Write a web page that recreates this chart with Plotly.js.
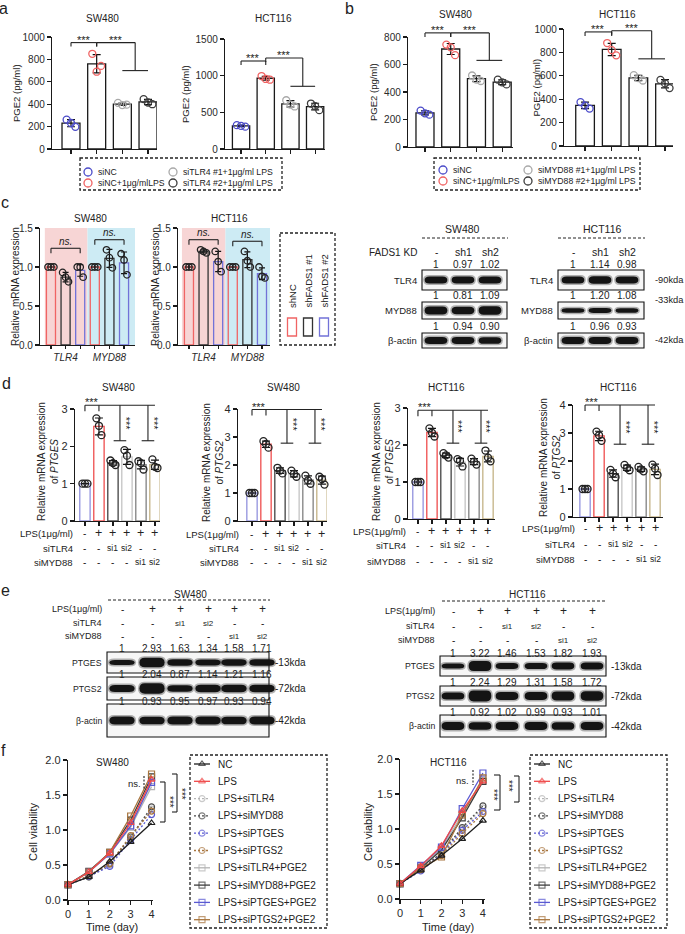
<!DOCTYPE html>
<html>
<head>
<meta charset="utf-8">
<script src="https://cdn.plot.ly/plotly-3.0.1.min.js"></script>
<style>html,body{margin:0;padding:0;background:#fff;}#fig{width:685px;height:934px;}</style>
</head>
<body>
<div id="fig"></div>
<script>
// ================= DATA =================
// panel a / b : PGE2 (pg/ml), three replicates per group
const aLegend = ["siNC", "siNC+1μg/mlLPS", "siTLR4 #1+1μg/ml LPS", "siTLR4 #2+1μg/ml LPS"];
const bLegend = ["siNC", "siNC+1μg/mlLPS", "siMYD88 #1+1μg/ml LPS", "siMYD88 #2+1μg/ml LPS"];
const aSW480  = [[262, 232, 198], [850, 690, 742], [412, 392, 396], [445, 415, 400]];
const aHCT116 = [[325, 315, 305], [995, 955, 945], [665, 605, 580], [620, 585, 530]];
const bSW480  = [[265, 245, 235], [745, 725, 668], [520, 490, 480], [490, 470, 455]];
const bHCT116 = [[375, 345, 320], [880, 820, 775], [605, 580, 560], [565, 535, 495]];

// panel c : relative mRNA expression (TLR4 x3 groups, MYD88 x3 groups)
const cGenes  = ["TLR4", "MYD88"];
const cGroups = ["shNC", "shFADS1 #1", "shFADS1 #2"];
const cSW480  = [[1, 1, 1], [0.93, 0.87, 0.81], [1.0, 1.0, 0.87], [1, 1, 1], [1.22, 1.12, 0.99], [1.17, 1.09, 0.90]];
const cHCT116 = [[1, 1, 1], [1.22, 1.20, 1.18], [1.20, 1.07, 0.94], [1, 1, 1], [1.20, 1.08, 1.00], [1.00, 0.88, 0.86]];
// panel c blots
const cLanes = ["-", "sh1", "sh2"];
const cBlotRows = ["TLR4", "MYD88", "β-actin"];
const cKda = ["-90kda", "-33kda", "-42kda"];
const cQuantSW480  = [[1, 0.97, 1.02], [1, 0.81, 1.09], [1, 0.94, 0.90]];
const cQuantHCT116 = [[1, 1.14, 0.98], [1, 1.20, 1.08], [1, 0.96, 0.93]];

// panel d : relative mRNA expression of PTGES / PTGS2
const dRowLabels = ["LPS(1μg/ml)", "siTLR4", "siMYD88"];
const dLPS   = ["-", "+", "+", "+", "+", "+"];
const dTLR4  = ["-", "-", "si1", "si2", "-", "-"];
const dMYD88 = ["-", "-", "-", "-", "si1", "si2"];
const dSW_PTGES  = [[1, 1, 1], [2.75, 2.55, 2.30], [1.62, 1.55, 1.50], [1.90, 1.75, 1.50], [1.60, 1.55, 1.38], [1.65, 1.45, 1.42]];
const dSW_PTGS2  = [[1, 1, 1], [2.85, 2.75, 2.62], [1.90, 1.80, 1.70], [1.80, 1.68, 1.58], [1.62, 1.45, 1.33], [1.58, 1.50, 1.30]];
const dHCT_PTGES = [[1, 1, 1], [2.45, 2.33, 2.23], [1.78, 1.72, 1.66], [1.62, 1.57, 1.42], [1.63, 1.55, 1.47], [1.85, 1.66, 1.56]];
const dHCT_PTGS2 = [[1, 1, 1], [3.05, 2.92, 2.72], [1.68, 1.55, 1.42], [1.86, 1.75, 1.67], [1.79, 1.70, 1.63], [1.87, 1.73, 1.50]];

// panel e blots
const eRows = ["PTGES", "PTGS2", "β-actin"];
const eKda = ["-13kda", "-72kda", "-42kda"];
const eQuantSW480  = [[1, 2.93, 1.63, 1.34, 1.58, 1.71], [1, 2.04, 0.87, 1.14, 1.21, 1.16], [1, 0.93, 0.95, 0.97, 0.93, 0.94]];
const eQuantHCT116 = [[1, 3.22, 1.46, 1.53, 1.82, 1.93], [1, 2.24, 1.29, 1.31, 1.58, 1.72], [1, 0.92, 1.02, 0.99, 0.93, 1.01]];

// panel f : cell viability over time
const fDays = [0, 1, 2, 3, 4];
const fNames = ["NC", "LPS", "LPS+siTLR4", "LPS+siMYD88", "LPS+siPTGES", "LPS+siPTGS2",
                "LPS+siTLR4+PGE2", "LPS+siMYD88+PGE2", "LPS+siPTGES+PGE2", "LPS+siPTGS2+PGE2"];
const fSW480 = [
  [0.22, 0.33, 0.55, 0.83, 1.10],
  [0.22, 0.40, 0.67, 1.10, 1.72],
  [0.22, 0.33, 0.50, 0.88, 1.30],
  [0.22, 0.33, 0.52, 0.90, 1.33],
  [0.22, 0.34, 0.48, 0.86, 1.22],
  [0.22, 0.35, 0.52, 0.92, 1.27],
  [0.22, 0.40, 0.66, 1.04, 1.62],
  [0.22, 0.41, 0.68, 1.14, 1.76],
  [0.22, 0.40, 0.66, 1.06, 1.68],
  [0.22, 0.40, 0.68, 1.20, 1.80]
];
const fHCT116 = [
  [0.22, 0.41, 0.62, 0.86, 1.12],
  [0.22, 0.47, 0.76, 1.26, 1.68],
  [0.22, 0.42, 0.66, 1.00, 1.30],
  [0.22, 0.42, 0.66, 1.02, 1.33],
  [0.22, 0.40, 0.64, 0.98, 1.25],
  [0.22, 0.42, 0.62, 0.94, 1.22],
  [0.22, 0.46, 0.72, 1.22, 1.70],
  [0.22, 0.44, 0.70, 1.16, 1.68],
  [0.22, 0.48, 0.74, 1.29, 1.80],
  [0.22, 0.44, 0.60, 1.20, 1.73]
];

// ================= STYLE / LAYOUT HELPERS =================
const FONT = '"Liberation Sans", Arial, Helvetica, sans-serif';
const INK = '#222222';
const W = 685, H = 934;
const P = x => x / W, Q = y => 1 - y / H;
const traces = [], shapes = [], annos = [];
const layout = {
  width: W, height: H, margin: {l: 0, r: 0, t: 0, b: 0, pad: 0},
  paper_bgcolor: '#ffffff', plot_bgcolor: 'rgba(0,0,0,0)', showlegend: false, hovermode: false,
  font: {family: FONT, color: INK, size: 10}, shapes: shapes, annotations: annos
};
function txt(x, y, text, o) {
  o = o || {};
  annos.push({xref: 'paper', yref: 'paper', x: P(x), y: Q(y), text: text, showarrow: false,
    xanchor: o.xa || 'center', yanchor: o.ya || 'middle', textangle: o.ang || 0, borderpad: 0,
    font: {family: FONT, size: o.size || 10, color: o.color || INK}});
}
function ln(x0, y0, x1, y1, o) {
  o = o || {};
  shapes.push({type: 'line', xref: 'paper', yref: 'paper', x0: P(x0), y0: Q(y0), x1: P(x1), y1: Q(y1),
    line: {color: o.color || INK, width: o.w || 1.1, dash: o.dash || 'solid'}, layer: o.layer || 'above'});
}
function rect(x0, y0, x1, y1, o) {
  o = o || {};
  shapes.push({type: 'rect', xref: 'paper', yref: 'paper', x0: P(x0), y0: Q(y0), x1: P(x1), y1: Q(y1),
    line: {color: o.line || INK, width: o.w === undefined ? 1 : o.w, dash: o.dash || 'solid'},
    fillcolor: o.fill || 'rgba(0,0,0,0)', layer: o.layer || 'above'});
}
let axCount = 0;
const axBase = {showgrid: false, zeroline: false, showline: true, linecolor: '#1a1a1a', linewidth: 1.2,
  ticks: 'outside', ticklen: 4, tickwidth: 1.2, tickcolor: '#1a1a1a',
  tickfont: {family: FONT, size: 10, color: '#2a2a2a'}, fixedrange: true};
function mk(p, xo, yo) {
  axCount++;
  const s = axCount === 1 ? '' : String(axCount);
  layout['xaxis' + s] = Object.assign({}, axBase, {domain: [P(p.L), P(p.R)], range: p.xr, anchor: 'y' + s}, xo || {});
  layout['yaxis' + s] = Object.assign({}, axBase, {domain: [Q(p.B), Q(p.T)], range: p.yr, anchor: 'x' + s}, yo || {});
  p.xa = 'x' + s; p.ya = 'y' + s;
  return p;
}
const X = (p, v) => p.L + (v - p.xr[0]) / (p.xr[1] - p.xr[0]) * (p.R - p.L);
const Y = (p, v) => p.B - (v - p.yr[0]) / (p.yr[1] - p.yr[0]) * (p.B - p.T);

// pixel overlay (for legend glyphs)
const pix = mk({L: 0, R: W, T: 0, B: H, xr: [0, W], yr: [H, 0]}, {visible: false}, {visible: false});
const glyph = {x: [], y: [], c: [], s: []};

function barPanel(p, reps, o) {
  const means = reps.map(r => r.reduce((a, b) => a + b, 0) / r.length);
  const sds = reps.map((r, i) => Math.sqrt(r.reduce((a, b) => a + (b - means[i]) ** 2, 0) / (r.length - 1)));
  const xs = reps.map((_, i) => i);
  traces.push({type: 'bar', x: xs, y: means, width: o.bw, xaxis: p.xa, yaxis: p.ya,
    marker: {color: o.fill, line: {color: o.edge, width: o.ew || 1.3}},
    error_y: {type: 'data', array: sds, visible: true, color: '#111', thickness: 1.2, width: o.ebw || 4}});
  const jit = o.jit || [-0.17, 0, 0.17];
  const qx = [], qy = [], qc = [];
  reps.forEach((r, i) => r.forEach((v, j) => { qx.push(xs[i] + jit[j % jit.length]); qy.push(v); qc.push(o.ptColor[i]); }));
  traces.push({type: 'scatter', mode: 'markers', x: qx, y: qy, xaxis: p.xa, yaxis: p.ya, cliponaxis: false,
    marker: {symbol: 'circle-open', size: o.ms || 7, color: qc, line: {width: 1.3}}});
}

// ---------- panel labels ----------
[['a', 4, 9], ['b', 349, 9], ['c', 5, 203], ['d', 6, 383], ['e', 5, 590], ['f', 4, 750]].forEach(t =>
  txt(t[1], t[2], t[0], {size: 16}));

// ================= PANEL a / b =================
const abColors = ['#4b4bc9', '#f06262', '#a9a9a9', '#3c3c3c'];
function sigAB(p, y1, y2, y3) {
  const t = 4;
  ln(X(p, 0), Y(p, y1) + t, X(p, 0), Y(p, y1)); ln(X(p, 0), Y(p, y1), X(p, 1), Y(p, y1)); ln(X(p, 1), Y(p, y1), X(p, 1), Y(p, y1) + t);
  txt(X(p, 0.5), Y(p, y1) - 3, '***', {size: 11});
  ln(X(p, 1), Y(p, y2), X(p, 2.5), Y(p, y2)); ln(X(p, 1), Y(p, y2), X(p, 1), Y(p, y2) + t);
  ln(X(p, 2.5), Y(p, y2), X(p, 2.5), Y(p, y3)); ln(X(p, 2), Y(p, y3), X(p, 3), Y(p, y3));
  txt(X(p, 1.75), Y(p, y2) - 3, '***', {size: 11});
}
function abPanel(spec, data, ticks, title, tx, ty, ytx, sig) {
  const p = mk(spec, {tickvals: [0, 1, 2, 3], showticklabels: false}, {tickvals: ticks});
  barPanel(p, data, {bw: 0.7, fill: '#ffffff', edge: '#1a1a1a', ptColor: abColors});
  sigAB(p, sig[0], sig[1], sig[2]);
  txt(tx, ty, title, {size: 10});
  txt(ytx, (spec.T + spec.B) / 2, 'PGE2 (pg/ml)', {ang: -90, size: 9.5});
}
abPanel({L: 52, R: 157, T: 37, B: 149, xr: [-0.74, 3.35], yr: [0, 1000]}, aSW480, [0, 200, 400, 600, 800, 1000], 'SW480', 102, 18, 17, [950, 950, 700]);
abPanel({L: 225, R: 325, T: 39, B: 149, xr: [-0.65, 3.4], yr: [0, 1500]}, aHCT116, [0, 500, 1000, 1500], 'HCT116', 273, 18, 186, [1200, 1240, 855]);
abPanel({L: 408, R: 513, T: 37, B: 147, xr: [-0.66, 3.42], yr: [0, 800]}, bSW480, [0, 200, 400, 600, 800], 'SW480', 455, 14, 374, [830, 830, 630]);
abPanel({L: 564, R: 673, T: 29, B: 146, xr: [-0.79, 3.3], yr: [0, 1000]}, bHCT116, [0, 200, 400, 600, 800, 1000], 'HCT116', 617, 14, 536, [975, 985, 745]);

function abLegend(box, c1, c2, rows, labels) {
  rect(box[0], box[1], box[2], box[3], {dash: '3px,2px', w: 1.3});
  labels.forEach((lab, i) => {
    const cx = i < 2 ? c1 : c2, cy = rows[i % 2];
    glyph.x.push(cx); glyph.y.push(cy); glyph.c.push(abColors[i]); glyph.s.push('circle-open');
    txt(cx + 9, cy, lab, {xa: 'left', size: 8.7});
  });
}
abLegend([80, 158, 282, 190], 88, 173, [172, 183], aLegend);
abLegend([434, 158, 640, 190], 443, 528, [170, 181], bLegend);

// ================= PANEL c (bars) =================
const cColors = ['#f06464', '#333333', '#7272d8'];
const cEdge = cGenes.flatMap(() => cColors);
function cPanel(spec, data, title, tx, ytx, pinkFrom, ns) {
  const p = mk(spec, {tickvals: [0, 1, 2, 3, 4, 5], ticktext: ['', '<i>' + cGenes[0] + '</i>', '', '', '<i>' + cGenes[1] + '</i>', ''], ticklen: 3,
    tickfont: {family: FONT, size: 10, color: '#2a2a2a'}},
    {tickvals: [0, 0.5, 1, 1.5], tickformat: '.1f', tickfont: {family: FONT, size: 10, color: '#2a2a2a'}});
  rect(X(p, pinkFrom), spec.T, X(p, 2.5), spec.B, {fill: '#f7d5d5', w: 0, layer: 'below'});
  rect(X(p, 2.5), spec.T, spec.R, spec.B, {fill: '#cdebf4', w: 0, layer: 'below'});
  barPanel(p, data, {bw: 0.62, fill: 'rgba(0,0,0,0)', edge: cEdge, ptColor: data.map(() => '#222'), ms: 6.5, ebw: 3, jit: [-0.2, 0, 0.2]});
  ns.forEach(n => {
    const a = X(p, n[0]), b = X(p, n[0] + 2), y = Y(p, n[1]);
    ln(a, y + 5, a, y); ln(a, y, b, y); ln(b, y, b, y + 5);
    txt((a + b) / 2, y - 7, '<i>ns.</i>', {size: 10});
  });
  txt(tx, 218, title, {size: 10});
  txt(ytx, 287, 'Relative mRNA expression', {ang: -90, size: 10});
}
cPanel({L: 40, R: 135, T: 228, B: 345, xr: [-0.75, 5.75], yr: [0, 1.5]}, cSW480, 'SW480', 90, 15, -0.42, [[0, 1.24], [3, 1.35]]);
cPanel({L: 178, R: 270, T: 228, B: 345, xr: [-0.75, 5.55], yr: [0, 1.5]}, cHCT116, 'HCT116', 229, 155, -0.48, [[0, 1.35], [3, 1.33]]);
// c legend
rect(280, 233, 335, 345, {dash: '3px,2px', w: 1.3});
cGroups.forEach((g, i) => {
  const cx = 292 + i * 16;
  txt(cx, 309, g, {ang: -90, ya: 'bottom', size: 9.5});
  rect(cx - 4.5, 318, cx + 4.5, 336, {line: cColors[i], w: 1.3});
});

// ================= BLOTS =================
function bandPath(cx, cy, w, h) {
  const x0 = cx - w / 2, x1 = cx + w / 2, y0 = cy - h / 2, y1 = cy + h / 2, r = w * 0.22;
  return `M${P(x0 + r)},${Q(y0)} L${P(x1 - r)},${Q(y0)} Q${P(x1)},${Q(y0)} ${P(x1)},${Q(cy)} Q${P(x1)},${Q(y1)} ${P(x1 - r)},${Q(y1)} ` +
         `L${P(x0 + r)},${Q(y1)} Q${P(x0)},${Q(y1)} ${P(x0)},${Q(cy)} Q${P(x0)},${Q(y0)} ${P(x0 + r)},${Q(y0)} Z`;
}
function band(cx, cy, w, h) {
  shapes.push({type: 'path', xref: 'paper', yref: 'paper', path: bandPath(cx, cy, w + 3, h + 3), fillcolor: 'rgba(40,40,40,0.35)', line: {width: 0}});
  shapes.push({type: 'path', xref: 'paper', yref: 'paper', path: bandPath(cx, cy, w, h), fillcolor: '#141414', line: {width: 0}});
}
const fmtQ = q => (q === 1 ? '1' : q.toFixed(2));
function drawBlot(b) {
  const f = b.fs;
  txt(b.titleX, b.titleY, b.title, {size: f.title});
  ln(b.dashL, b.dashY, b.dashR, b.dashY, {dash: '3px,2px', w: 1});
  b.hdr.forEach(h => {
    if (h.label) txt(b.labR, h.y, h.label, {size: f.hdr, xa: 'right'});
    h.vals.forEach((v, i) => txt(b.lanes[i], h.y, v, {size: v === '+' ? 12 : (v === '-' ? 10 : f.si)}));
  });
  const sp = b.lanes[1] - b.lanes[0];
  b.rows.forEach((r, k) => {
    b.quant[k].forEach((q, i) => txt(b.lanes[i], r.qy, fmtQ(q), {size: f.q}));
    rect(b.L, r.T, b.R, r.B, {fill: '#f6f6f6', line: '#111', w: 1.1});
    txt(b.labR, (r.T + r.B) / 2, b.names[k], {size: f.row, xa: 'right'});
    if (b.kda) txt(b.kdaX, r.kdaY, b.kda[k], {size: f.kda, xa: 'left'});
    b.quant[k].forEach((q, i) => {
      const h = Math.min(r.h * (0.55 + 0.45 * q), (r.B - r.T) - 4);
      band(b.lanes[i], (r.T + r.B) / 2, sp * 0.84, h);
    });
  });
}
const cFs = {title: 10.5, hdr: 10, si: 10.5, q: 10, row: 9.5, kda: 9.3};
const eFs = {title: 10, hdr: 9, si: 8, q: 10, row: 8.7, kda: 10};
// c blots
drawBlot({title: 'SW480', titleX: 462, titleY: 229, dashL: 422, dashR: 508, dashY: 238, fs: cFs,
  lanes: [436, 463, 490], L: 422, R: 507, labR: 418,
  hdr: [{label: 'FADS1 KD', y: 252, vals: cLanes}], names: cBlotRows, quant: cQuantSW480,
  rows: [{T: 270, B: 290, qy: 264, h: 7}, {T: 302, B: 319, qy: 296, h: 8}, {T: 333, B: 348, qy: 326, h: 7}]});
drawBlot({title: 'HCT116', titleX: 602, titleY: 229, dashL: 558, dashR: 645, dashY: 238, fs: cFs,
  lanes: [573, 600, 627], L: 558, R: 644, labR: 554, kda: cKda, kdaX: 654,
  hdr: [{label: '', y: 252, vals: cLanes}], names: cBlotRows, quant: cQuantHCT116,
  rows: [{T: 270, B: 290, qy: 264, h: 7, kdaY: 280}, {T: 302, B: 319, qy: 296, h: 4.5, kdaY: 300}, {T: 333, B: 348, qy: 326, h: 7, kdaY: 340}]});

// e blots
drawBlot({title: 'SW480', titleX: 190, titleY: 594, dashL: 108, dashR: 270, dashY: 600, fs: eFs,
  lanes: [122, 152, 180, 208, 234, 262], L: 107, R: 269, labR: 103, kda: eKda, kdaX: 274,
  hdr: [{label: dRowLabels[0], y: 609, vals: dLPS}, {label: dRowLabels[1], y: 623, vals: dTLR4}, {label: dRowLabels[2], y: 636, vals: dMYD88}],
  names: eRows, quant: eQuantSW480,
  rows: [{T: 652, B: 673, qy: 648, h: 5, kdaY: 662}, {T: 677, B: 700, qy: 674, h: 7, kdaY: 688}, {T: 704, B: 737, qy: 701, h: 8, kdaY: 720}]});
drawBlot({title: 'HCT116', titleX: 527, titleY: 594, dashL: 442, dashR: 605, dashY: 601, fs: eFs,
  lanes: [453, 480, 507, 536, 563, 592], L: 440, R: 606, labR: 436, kda: eKda, kdaX: 610,
  hdr: [{label: dRowLabels[0], y: 611, vals: dLPS}, {label: dRowLabels[1], y: 626, vals: dTLR4}, {label: dRowLabels[2], y: 640, vals: dMYD88}],
  names: eRows, quant: eQuantHCT116,
  rows: [{T: 656, B: 676, qy: 653, h: 5, kdaY: 666}, {T: 686, B: 706, qy: 682, h: 7, kdaY: 696}, {T: 715, B: 737, qy: 712, h: 8, kdaY: 726}]});

// ================= PANEL d =================
const dColors = ['#9a9ae0', '#f05a5a', '#505050', '#c8c8c8', '#8a8a8a', '#c8b88e'];
function sigD(p, yT, yB, yS) {
  const t = 6;
  ln(X(p, 0), Y(p, yT) + t, X(p, 0), Y(p, yT)); ln(X(p, 0), Y(p, yT), X(p, 5), Y(p, yT)); ln(X(p, 1), Y(p, yT), X(p, 1), Y(p, yT) + t);
  txt(X(p, 0.5), Y(p, yT) - 3, '***', {size: 11});
  [2.5, 4.5].forEach(xm => {
    ln(X(p, xm), Y(p, yT), X(p, xm), Y(p, yB));
    ln(X(p, xm - 0.45), Y(p, yB), X(p, xm + 0.45), Y(p, yB));
    txt(X(p, xm + 0.4), Y(p, yS), '***', {size: 11, ang: 90});
  });
}
function dPanel(spec, data, ticks, title, tx, gene, ytx, yty, sig, rowsY, labR) {
  const p = mk(spec, {tickvals: [0, 1, 2, 3, 4, 5], showticklabels: false},
    {tickvals: ticks, tickfont: {family: FONT, size: 11, color: '#2a2a2a'}});
  barPanel(p, data, {bw: 0.74, fill: '#ffffff', edge: dColors, ew: 1.4, ptColor: data.map(() => '#222'), ms: 7, jit: [-0.18, 0, 0.18]});
  sigD(p, sig[0], sig[1], sig[2]);
  txt(tx, 387, title, {size: 10});
  txt(ytx, yty, 'Relative mRNA expression<br>of <i>' + gene + '</i>', {ang: -90, size: 10});
  const rows = [dLPS, dTLR4, dMYD88];
  rows.forEach((r, k) => {
    txt(labR, rowsY[k], dRowLabels[k], {xa: 'right', size: 9.5});
    r.forEach((v, i) => txt(X(p, i), rowsY[k], v, {size: v === '+' ? 12.5 : (v === '-' ? 10 : 8.5)}));
  });
}
dPanel({L: 75, R: 160, T: 409, B: 521, xr: [-0.71, 5.36], yr: [0, 3]}, dSW_PTGES, [0, 1, 2, 3], 'SW480', 118, 'PTGES', 48, 462, [3.1, 2.15, 2.62], [533, 548, 562], 74);
dPanel({L: 238, R: 327, T: 409, B: 521, xr: [-1.0, 5.36], yr: [0, 4]}, dSW_PTGS2, [0, 1, 2, 3, 4], 'SW480', 283, 'PTGS2', 213, 462, [3.98, 2.78, 3.45], [534, 548, 562], 240);
dPanel({L: 408, R: 495, T: 408, B: 519, xr: [-0.71, 5.5], yr: [0, 3]}, dHCT_PTGES, [0, 1, 2, 3], 'HCT116', 447, 'PTGES', 383, 462, [2.94, 2.05, 2.5], [531, 545, 561], 407);
dPanel({L: 573, R: 663, T: 405, B: 517, xr: [-0.86, 5.57], yr: [0, 4]}, dHCT_PTGS2, [0, 1, 2, 3, 4], 'HCT116', 618, 'PTGS2', 550, 458, [4.0, 2.6, 3.2], [528, 544, 559], 576);

// ================= PANEL f =================
const fColors = ['#1e1e1e', '#f04848', '#b4b4b4', '#4a4a4a', '#5a5ad2', '#a8753e', '#b4b4b4', '#3c3c3c', '#5a5ad2', '#a8753e'];
const fSym = ['triangle-up-open', 'triangle-up-open', 'circle-open', 'circle-open', 'circle-open', 'circle-open',
              'square-open', 'square-open', 'square-open', 'square-open'];
const fDash = ['solid', 'solid', '2px,2px', '2px,2px', '2px,2px', '2px,2px', 'solid', 'solid', 'solid', 'solid'];
const fOrder = [2, 3, 4, 5, 6, 7, 8, 9, 0, 1];
function fPanel(spec, data, title, tx, ytx, lg) {
  const tf = {family: FONT, size: 11, color: '#2a2a2a'};
  const p = mk(spec, {tickvals: fDays, tickfont: tf}, {tickvals: [0, 0.5, 1, 1.5, 2], tickformat: '.1f', tickfont: tf});
  fOrder.forEach(i => traces.push({type: 'scatter', mode: 'lines+markers', x: fDays, y: data[i], xaxis: p.xa, yaxis: p.ya, cliponaxis: false,
    line: {color: fColors[i], width: 1.3, dash: fDash[i]},
    marker: {symbol: fSym[i], size: 6, color: fColors[i], line: {width: 1.2}}}));
  txt(tx, 762, title, {size: 10});
  txt(tx, 927, 'Time (day)', {size: 11});
  txt(ytx, 832, 'Cell viability', {ang: -90, size: 11});
  // legend
  rect(lg, 755, lg + 137, 928, {dash: '3px,2px', w: 1.3});
  fNames.forEach((nm, i) => {
    const y = 764 + i * 17.3;
    traces.push({type: 'scatter', mode: 'lines+markers', x: [lg + 4, lg + 12, lg + 20], y: [y, y, y], xaxis: pix.xa, yaxis: pix.ya,
      line: {color: fColors[i], width: 1.3, dash: fDash[i]},
      marker: {symbol: fSym[i], size: [0, 6, 0], color: fColors[i], line: {width: 1.2}}});
    txt(lg + 27, y, nm, {xa: 'left', size: 10});
  });
  return p;
}
fPanel({L: 68, R: 153, T: 760, B: 900, xr: [0, 4.07], yr: [0, 2]}, fSW480, 'SW480', 112, 33, 190);
fPanel({L: 400, R: 485, T: 759, B: 899, xr: [0, 4.1], yr: [0, 2]}, fHCT116, 'HCT116', 448, 368, 530);
// significance marks (f)
ln(144, 776, 144, 789, {dash: '2px,1.5px'}); txt(142, 783, 'ns.', {xa: 'right', size: 9.5});
ln(160, 782, 165, 782); ln(165, 782, 165, 822); ln(160, 822, 165, 822); txt(170, 802, '***', {ang: 90, size: 10});
ln(172, 774, 177, 774); ln(177, 774, 177, 812); ln(172, 812, 177, 812); txt(182, 794, '***', {ang: 90, size: 10});
ln(473, 770, 473, 785, {dash: '2px,1.5px'}); txt(470, 780, 'ns.', {xa: 'right', size: 9.5});
ln(494, 775, 500, 775); ln(500, 775, 500, 810); ln(494, 810, 500, 810); txt(494, 795, '***', {ang: 90, size: 10});
ln(514, 776, 519, 776); ln(519, 776, 519, 802); ln(514, 802, 519, 802); txt(509, 786, '***', {ang: 90, size: 10});

// legend glyphs (a / b)
traces.push({type: 'scatter', mode: 'markers', x: glyph.x, y: glyph.y, xaxis: pix.xa, yaxis: pix.ya,
  marker: {symbol: glyph.s, size: 8, color: glyph.c, line: {width: 1.3}}});

Plotly.newPlot('fig', traces, layout, {staticPlot: true, displayModeBar: false});
</script>
</body>
</html>
